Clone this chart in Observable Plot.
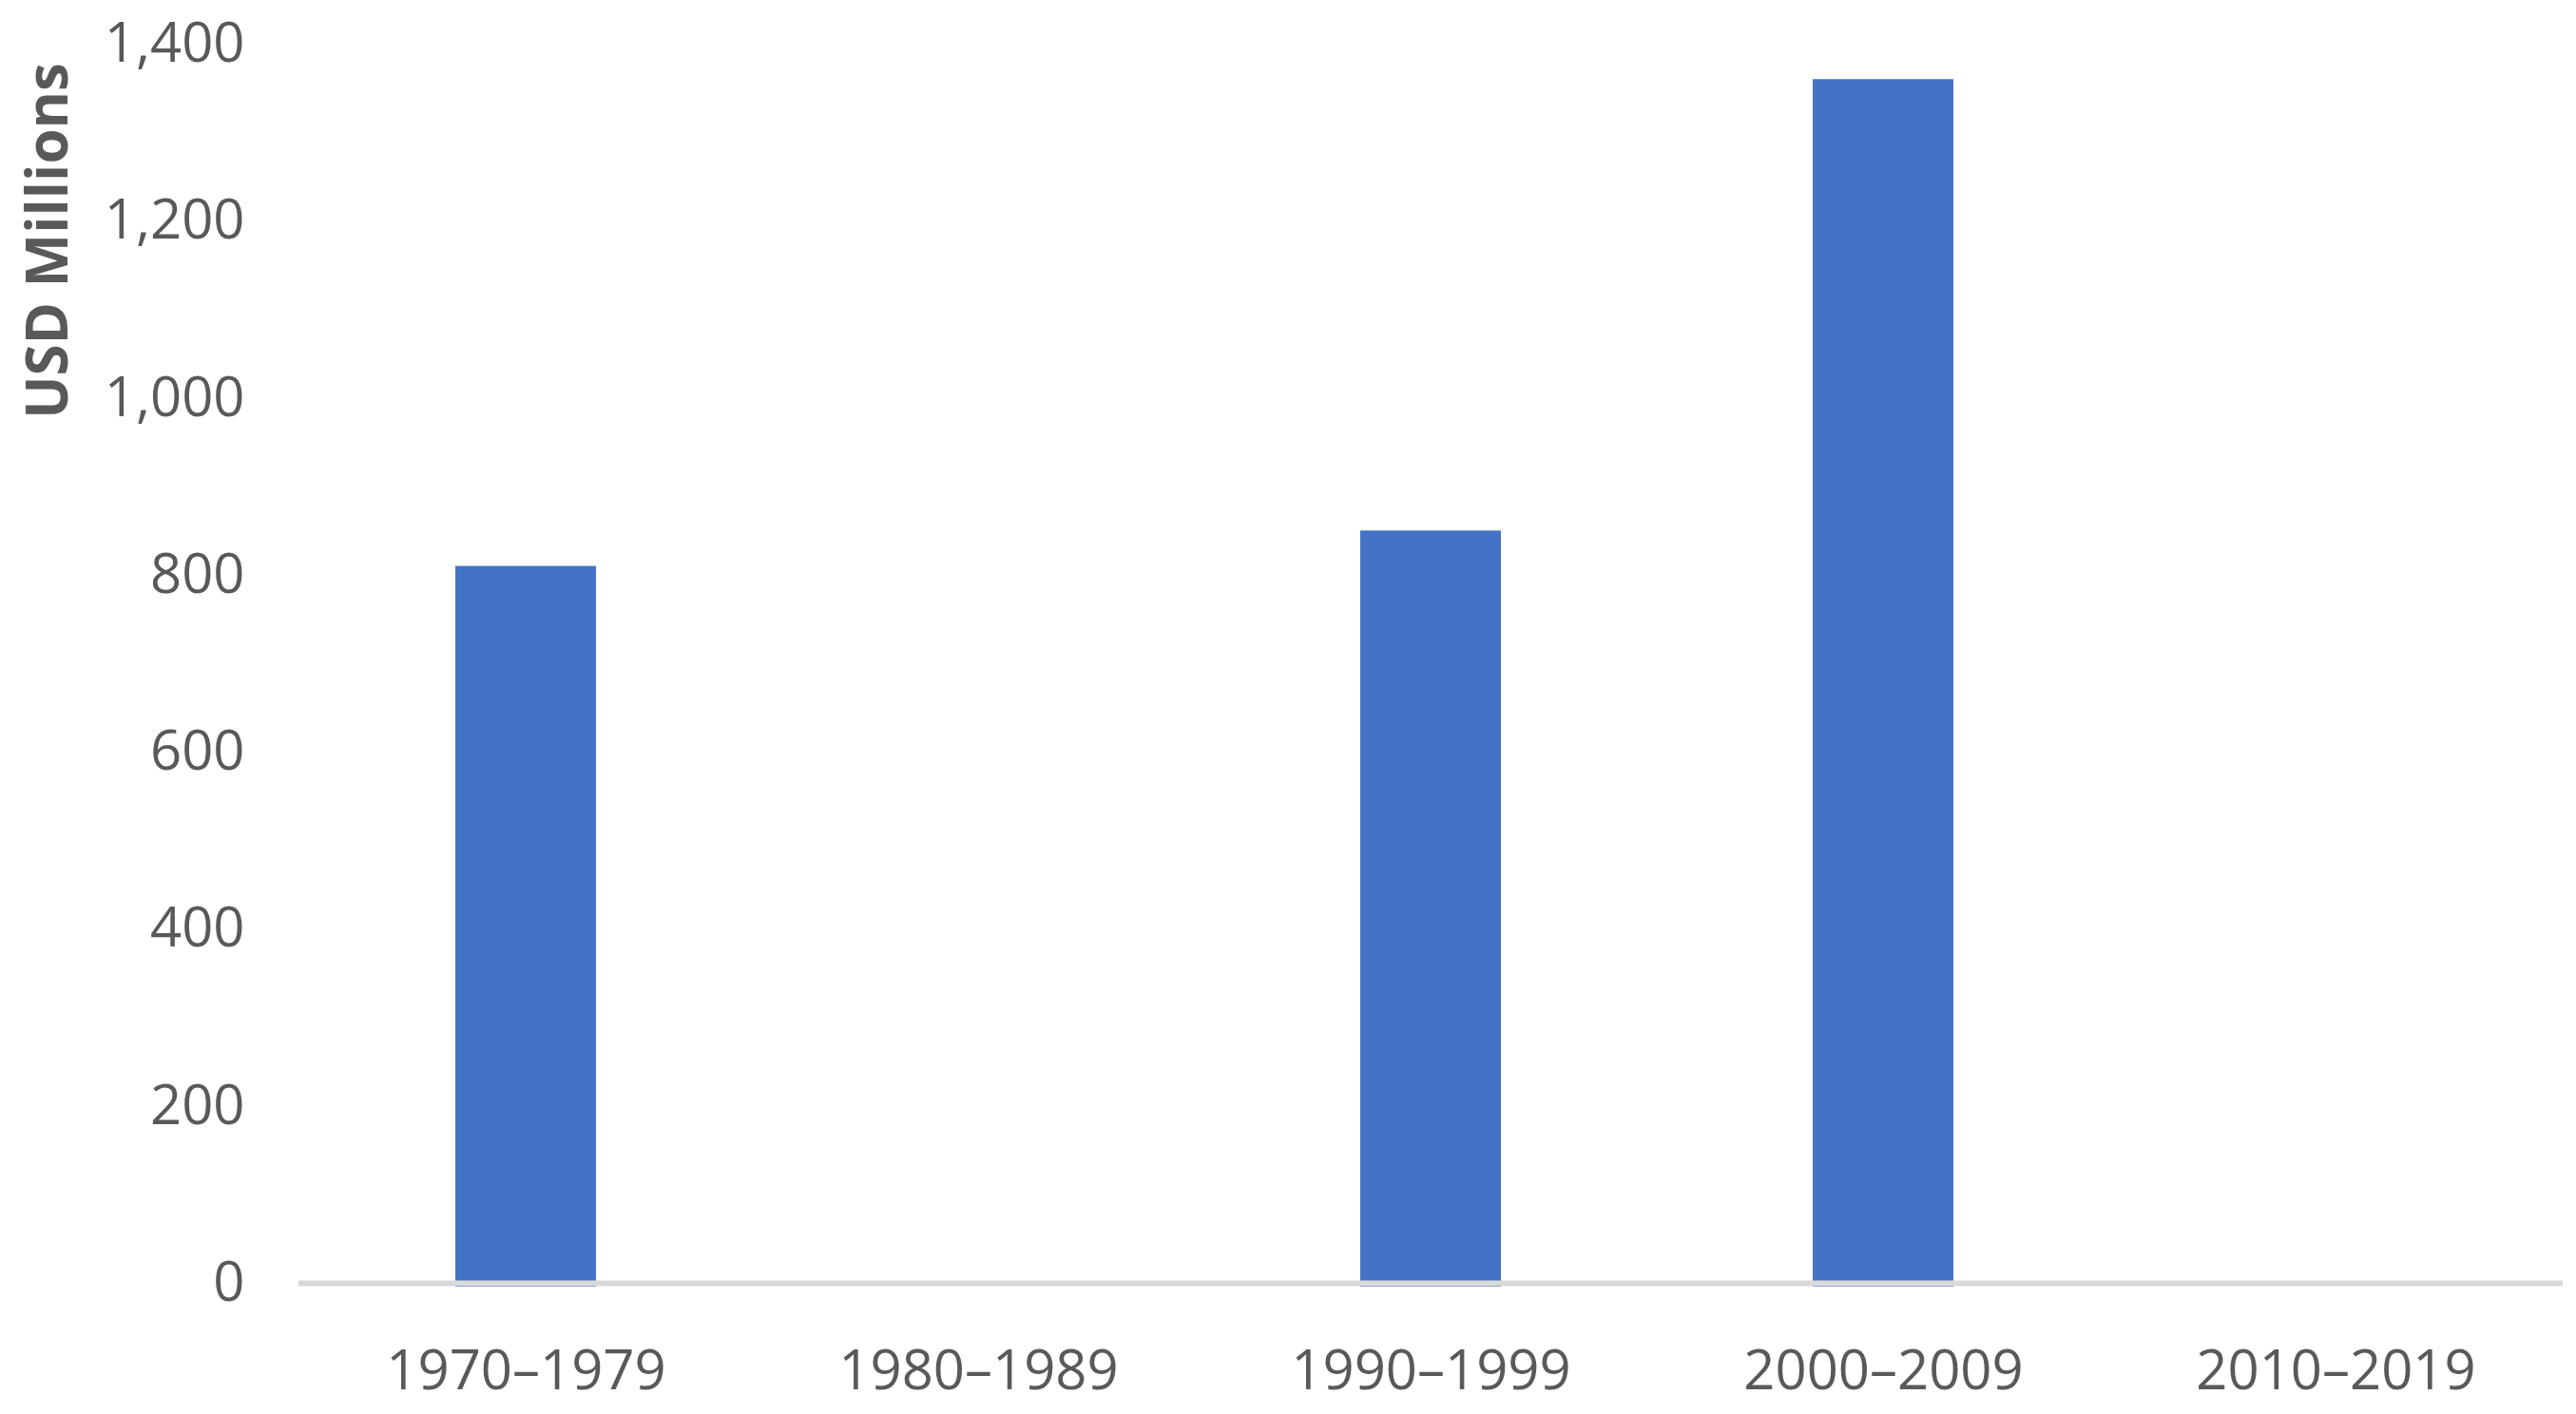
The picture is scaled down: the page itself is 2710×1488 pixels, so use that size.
<!DOCTYPE html>
<html>
<head>
<meta charset="utf-8">
<script src="https://cdn.jsdelivr.net/npm/d3@7"></script>
<script src="https://cdn.jsdelivr.net/npm/@observablehq/plot@0.6"></script>
<style>
  html, body { margin: 0; padding: 0; background: #fff; }
  #chart svg { display: block; }
</style>
</head>
<body>
<div id="chart"></div>
<script>
const decades = ["1970–1979", "1980–1989", "1990–1999", "2000–2009", "2010–2019"];
const values = [810, 0, 850, 1360, 0];
const yTicks = [0, 200, 400, 600, 800, 1000, 1200, 1400];
const yTitle = "USD Millions";

const data = decades.map((d, i) => ({decade: d, value: values[i]}));

const chart = Plot.plot({
  width: 2710,
  height: 1488,
  marginLeft: 314,
  marginRight: 14,
  marginTop: 46,
  marginBottom: 138,
  style: {fontFamily: "'Open Sans', sans-serif", color: "#595959", background: "#fff"},
  x: {domain: decades, paddingInner: 0.69, paddingOuter: 0.345},
  y: {domain: [0, 1400]},
  marks: [
    Plot.barY(data, {filter: d => d.value > 0, x: "decade", y: "value", fill: "#4472C4", insetBottom: -4}),
    Plot.ruleY([0], {stroke: "#d9d9d9", strokeWidth: 6}),
    Plot.axisX({tickSize: 0, tickPadding: 70, fontSize: 58, label: null, fill: "#595959"}),
    Plot.axisY({ticks: yTicks, tickSize: 0, tickPadding: 57, fontSize: 58, tickFormat: d3.format(","), label: null, fill: "#595959"}),
    Plot.text([yTitle], {frameAnchor: "top-left", dx: -263, dy: 207, rotate: -90, textAnchor: "middle", lineAnchor: "middle", fontSize: 60, fontWeight: "bold", fill: "#595959"})
  ]
});
document.getElementById("chart").appendChild(chart);
</script>
</body>
</html>
